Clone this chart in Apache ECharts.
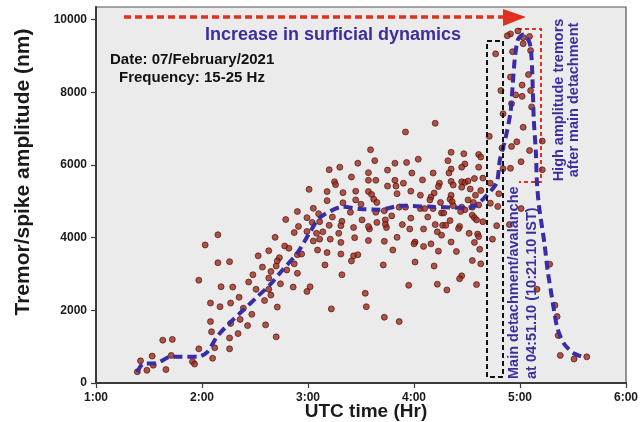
<!DOCTYPE html>
<html>
<head>
<meta charset="utf-8">
<script src="https://cdn.jsdelivr.net/npm/echarts@6/dist/echarts.min.js"></script>
<style>
  html, body { margin: 0; padding: 0; background: #ffffff; }
  #tremorChartID { width: 642px; height: 422px; }
</style>
</head>
<body>
<div id="tremorChartID"></div>
<script>
// tremor / spike amplitude points, [UTC hour, amplitude nm]
var earlyTremors = [
    [1.39, 310], [1.42, 610], [1.48, 350], [1.53, 740], [1.54, 490], [1.63, 1180], [1.66, 370],
    [1.72, 1200], [1.71, 760], [1.91, 590], [1.93, 520], [1.97, 940], [1.97, 2830]
];
var risingTremors = [
    [2.90, 4720], [2.79, 4500], [2.91, 4310], [2.87, 4140], [2.69, 4010], [2.15, 4080], [2.03, 3800],
    [2.78, 3770], [2.82, 3710], [2.63, 3640], [2.90, 3530], [2.73, 3450], [2.53, 3500], [2.71, 3360],
    [2.87, 3280], [2.80, 3110], [2.15, 3310], [2.26, 3340], [2.57, 3190], [2.65, 3070], [2.48, 2980],
    [2.70, 3220], [2.90, 3020], [2.44, 2780], [2.63, 2890], [2.18, 2650], [2.29, 2640], [2.51, 2580],
    [2.63, 2580], [2.74, 2730], [2.86, 2640], [2.65, 2420], [2.35, 2360], [2.59, 2270], [2.08, 2200],
    [2.17, 2100], [2.27, 2200], [2.71, 2090], [2.39, 2060], [2.47, 1890], [2.36, 1750], [2.08, 1690],
    [2.27, 1640], [2.43, 1580], [2.60, 1600], [2.09, 1410], [2.34, 1360], [2.26, 1240], [2.70, 1270],
    [2.12, 970], [2.26, 940], [2.10, 680]
];
var plateauTremors = [
    [3.59, 6420], [3.47, 6050], [3.63, 6120], [3.82, 6050], [3.20, 5870], [3.30, 5940], [3.57, 5790],
    [3.75, 5860], [3.41, 5670], [3.57, 5580], [3.64, 5580], [3.82, 5580], [3.25, 5540], [3.26, 5460],
    [3.75, 5420], [3.83, 5420], [3.01, 5330], [3.18, 5270], [3.33, 5240], [3.45, 5280], [3.57, 5270],
    [3.60, 5190], [3.84, 5210], [3.18, 5020], [3.45, 5040], [3.62, 5060], [3.65, 4970], [3.33, 4960],
    [3.50, 4920], [3.86, 4840], [3.05, 4810], [3.40, 4700], [3.64, 4700], [3.72, 4740], [3.79, 4600],
    [3.10, 4660], [2.99, 4550], [3.23, 4570], [3.51, 4490], [3.32, 4450], [3.65, 4420], [3.73, 4490],
    [3.04, 4420], [3.11, 4440], [3.31, 4330], [3.20, 4340], [3.43, 4280], [3.58, 4240], [3.74, 4280],
    [3.57, 4310], [3.73, 4370], [2.99, 4170], [3.08, 4120], [3.14, 4160], [3.29, 4120], [3.05, 3910],
    [3.11, 3960], [3.21, 3960], [3.44, 4000], [3.57, 3920], [3.72, 3900], [3.31, 3870], [3.84, 4010],
    [3.09, 3660], [3.18, 3590], [3.31, 3550], [3.43, 3500], [3.47, 3530], [3.80, 3660], [3.41, 3360],
    [2.94, 3550], [3.16, 3250], [3.71, 3250], [3.32, 2980], [3.02, 2650], [2.99, 2520], [3.54, 2470],
    [3.22, 2040], [3.55, 2100], [3.72, 1810], [3.86, 1690]
];
var preFailureTremors = [
    [4.20, 7150], [3.92, 6910], [4.35, 6350], [4.47, 6310], [4.61, 6290], [4.63, 6220], [4.04, 6160],
    [3.93, 6070], [4.32, 6120], [4.48, 6030], [4.45, 5940], [4.61, 5940], [4.35, 5890], [3.98, 5780],
    [4.18, 5780], [4.33, 5780], [4.65, 5640], [4.08, 5590], [4.57, 5630], [3.90, 5500], [4.24, 5500],
    [4.35, 5550], [4.45, 5540], [4.48, 5520], [4.51, 5560], [4.23, 5410], [4.37, 5450], [4.45, 5390],
    [4.53, 5340], [4.63, 5300], [3.97, 5280], [4.19, 5230], [4.06, 5170], [4.16, 5120], [4.35, 5170],
    [4.58, 5170], [4.34, 5060], [4.15, 5040], [4.51, 5040], [4.56, 4970], [4.61, 4900], [4.36, 4990],
    [4.25, 4970], [3.92, 4840], [4.06, 4800], [4.10, 4800], [4.18, 4800], [4.37, 4880], [4.45, 4840],
    [4.48, 4770], [4.55, 4840], [4.26, 4680], [4.28, 4680], [4.44, 4720], [4.55, 4620], [4.57, 4550],
    [4.13, 4570], [3.97, 4540], [4.34, 4470], [4.59, 4490], [3.89, 4360], [4.20, 4360], [4.27, 4340],
    [4.30, 4340], [4.43, 4310], [4.65, 4440], [3.96, 4240], [4.09, 4240], [4.42, 4250], [4.22, 4160],
    [4.52, 4120], [4.60, 4100], [4.26, 4070], [4.61, 4030], [4.01, 3880], [4.00, 3830], [4.35, 3880],
    [4.57, 3870], [4.16, 3830], [4.09, 3760], [4.23, 3630], [4.40, 3620], [4.62, 3680], [4.01, 3330],
    [4.55, 3370], [4.19, 3220], [4.63, 3280], [4.45, 2950], [4.43, 2870], [3.95, 2690], [4.22, 2720],
    [4.59, 2710], [4.31, 2560], [4.74, 3960], [4.71, 6790], [4.72, 5500], [4.79, 4860], [4.78, 4330],
    [4.72, 4950], [4.90, 4360]
];
var peakTremors = [
    [4.91, 9610], [4.88, 9560], [5.09, 9540], [5.03, 9510], [5.03, 9340], [4.77, 9060], [4.93, 9120],
    [5.10, 9150], [5.08, 8490], [5.02, 8200], [4.91, 8420], [4.82, 8050], [4.96, 7930], [5.10, 8050],
    [5.02, 7890], [4.92, 7690], [5.11, 7600], [4.84, 7410], [5.03, 7040], [4.97, 6640], [5.21, 6660],
    [4.92, 6510], [5.09, 6400], [4.83, 6470], [5.01, 6090], [4.91, 5910], [5.21, 5870], [4.84, 5900],
    [4.80, 5210], [5.01, 4800], [4.98, 9690]
];
var decayTremors = [
    [5.16, 2580], [5.28, 3270], [5.33, 2140], [5.35, 1830], [5.36, 1310], [5.38, 760], [5.51, 660], [5.63, 720]
];

// dashed trend curve
var trendHours = [1.39, 1.44, 1.58, 1.70, 1.86, 1.96, 2.05, 2.14, 2.26, 2.39, 2.52, 2.64, 2.76, 2.90, 3.02, 3.11,
    3.33, 3.49, 3.68, 3.87, 4.18, 4.50, 4.59, 4.69, 4.78, 4.81, 4.86, 4.91, 4.93, 4.95, 4.98, 5.03, 5.09,
    5.11, 5.12, 5.13, 5.15, 5.16, 5.18, 5.23, 5.26, 5.31, 5.35, 5.41, 5.50, 5.59];
var trendAmps = [300, 520, 550, 720, 720, 720, 850, 1270, 1650, 2010, 2370, 2700, 3110, 3580, 4160, 4550,
    4850, 4790, 4770, 4880, 4850, 4820, 4900, 5180, 5510, 6140, 6700, 7440, 8150, 8900, 9450, 9590, 9370,
    8900, 8150, 7250, 6340, 5510, 4850, 3860, 3110, 2200, 1540, 1100, 830, 720];

var yTicks = [0, 2000, 4000, 6000, 8000, 10000];

var tremorChart = echarts.init(document.getElementById('tremorChartID'));

var allTremors = earlyTremors.concat(risingTremors, plateauTremors, preFailureTremors, peakTremors, decayTremors);
var trendData = trendHours.map(function (h, i) { return [h, trendAmps[i]]; });

var fontFam = '"Liberation Sans", Arial, sans-serif';
var blueText = '#3b2f9f';

function label(text, x, y, size, color, align, rotated) {
    return {
        type: 'text', z: 10, x: x, y: y, rotation: rotated ? Math.PI / 2 : 0,
        style: {
            text: text, font: 'bold ' + size + 'px ' + fontFam, fill: color,
            align: align, verticalAlign: 'middle', textAlign: align, textVerticalAlign: 'middle'
        }
    };
}

var option_tremor = {
    animation: false,
    backgroundColor: '#ffffff',
    grid: {
        left: 96,
        right: 16,
        top: 7,
        bottom: 39,
        show: true,
        backgroundColor: '#ebebeb',
        borderColor: '#555555',
        borderWidth: 1.2
    },
    xAxis: {
        type: 'value',
        min: 1,
        max: 6,
        interval: 1,
        axisLine: { lineStyle: { color: '#3a3a3a', width: 2 } },
        axisTick: { length: 5, lineStyle: { color: '#3a3a3a', width: 1.2 } },
        splitLine: { show: false },
        axisLabel: {
            fontFamily: fontFam, fontWeight: 'bold', fontSize: 12, color: '#1a1a1a', margin: 9,
            formatter: function (v) { return v + ':00'; }
        }
    },
    yAxis: {
        type: 'value',
        min: 0,
        max: 10350,
        interval: 2000,
        axisLine: { show: true, lineStyle: { color: '#3a3a3a', width: 2 } },
        axisTick: { show: true, length: 5, customValues: yTicks, lineStyle: { color: '#3a3a3a', width: 1.2 } },
        splitLine: { show: false },
        axisLabel: {
            fontFamily: fontFam, fontWeight: 'bold', fontSize: 12, color: '#1a1a1a', margin: 9,
            customValues: yTicks,
            formatter: function (v) { return v % 2000 === 0 ? String(v) : ''; }
        }
    },
    series: [
        {
            name: 'tremors',
            type: 'scatter',
            symbolSize: 6,
            data: allTremors,
            itemStyle: { color: '#a02a1d', borderColor: '#3d0c06', borderWidth: 0.8 },
            z: 3
        },
        {
            name: 'trend',
            type: 'line',
            data: trendData,
            showSymbol: false,
            smooth: 0.25,
            lineStyle: { color: '#3a2ca8', width: 4, type: [9, 5] },
            z: 4
        }
    ],
    graphic: [
        // axis names
        label('Tremor/spike amplitude (nm)', 23, 172, 21, '#1a1a1a', 'center', true),
        label('UTC time (Hr)', 366, 412, 19, '#1a1a1a', 'center', false),
        // red dashed arrow
        {
            type: 'line', z: 10,
            shape: { x1: 124, y1: 17, x2: 504, y2: 17 },
            style: { stroke: '#e0301e', lineWidth: 3.5, lineDash: [7, 4] }
        },
        {
            type: 'polygon', z: 10,
            shape: { points: [[503, 9], [526, 17], [503, 26]] },
            style: { fill: '#e0301e' }
        },
        label('Increase in surficial dynamics', 333, 35, 18, blueText, 'center', false),
        label('Date: 07/February/2021', 110, 60, 15, '#111111', 'left', false),
        label('Frequency: 15-25 Hz', 119, 78, 15, '#111111', 'left', false),
        // black dashed box: main detachment
        {
            type: 'rect', z: 10,
            shape: { x: 487, y: 41, width: 16, height: 336 },
            style: { fill: 'none', stroke: '#111111', lineWidth: 2, lineDash: [5, 3] }
        },
        // red dashed box: high amplitude tremors
        {
            type: 'polyline', z: 2,
            shape: { points: [[518, 29], [541, 29], [541, 182], [519, 182]] },
            style: { fill: 'none', stroke: '#e0301e', lineWidth: 2, lineDash: [4, 3] }
        },
        label('Main detachment/avalanche', 514, 379, 14.5, blueText, 'left', true),
        label('at 04:51.10 (10:21.10 IST)', 532, 379, 14.5, blueText, 'left', true),
        label('High amplitude tremors', 559, 100, 14.5, blueText, 'center', true),
        label('after main detachment', 574, 100, 14.5, blueText, 'center', true)
    ]
};

option_tremor && tremorChart.setOption(option_tremor);
</script>
</body>
</html>
